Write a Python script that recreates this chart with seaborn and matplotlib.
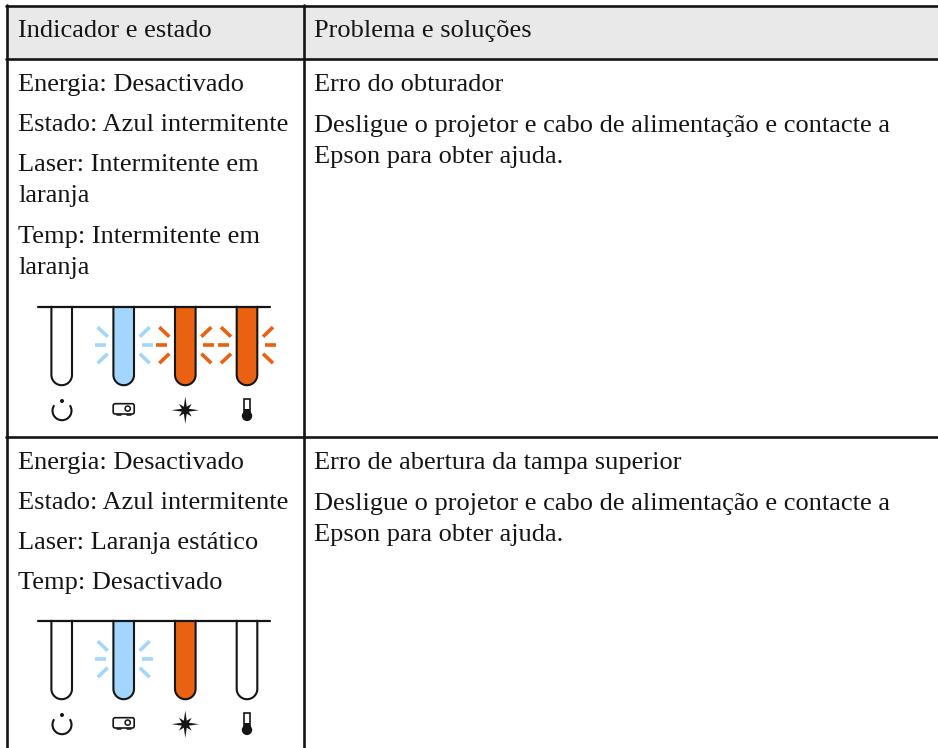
import numpy as np
import matplotlib
matplotlib.use("Agg")
import matplotlib.pyplot as plt
import seaborn as sns
from matplotlib.patches import Circle, Arc, FancyBboxPatch, Polygon, Rectangle

sns.set_theme(style="white")
plt.rcParams['font.family'] = ['Liberation Serif', 'DejaVu Serif']

W, H = 938, 748
FONT = 19
INK = "#151515"
BLUE = "#a3d6ff"
ORANGE = "#ea6211"

headers = ["Indicador e estado", "Problema e soluções"]

row1_left = ["Energia: Desactivado", "Estado: Azul intermitente", "Laser: Intermitente em", "laranja",
             "Temp: Intermitente em", "laranja"]
row1_left_y = [91, 131, 171, 202, 243, 274]
row1_right = ["Erro do obturador", "Desligue o projetor e cabo de alimentação e contacte a",
              "Epson para obter ajuda."]
row1_right_y = [91, 131.5, 163]
row1_state = ["off", "blue_blink", "orange_blink", "orange_blink"]

row2_left = ["Energia: Desactivado", "Estado: Azul intermitente", "Laser: Laranja estático", "Temp: Desactivado"]
row2_left_y = [469, 509, 549, 589]
row2_right = ["Erro de abertura da tampa superior", "Desligue o projetor e cabo de alimentação e contacte a",
              "Epson para obter ajuda."]
row2_right_y = [469, 510, 541]
row2_state = ["off", "blue_blink", "orange", "off"]

tube_x = [61.7, 123.7, 185.3, 247]


def draw_tube(ax, cx, top, state):
    r, bottom = 10.3, top + 78.5
    color = {"off": "white", "blue_blink": BLUE, "orange_blink": ORANGE, "orange": ORANGE}[state]
    t = np.linspace(np.pi, 0, 40)
    xs = np.r_[cx - r, cx + r * np.cos(t), cx + r]
    ys = np.r_[top, bottom - r + r * np.sin(t), top]
    ax.fill(xs, ys, color=color, lw=0, zorder=2)
    ax.plot(xs, ys, color=INK, lw=1.5, zorder=3)
    if state.endswith("blink"):
        mid = top + 38.5
        for sx in (-1, 1):
            ax.plot([cx + sx * 18, cx + sx * 29], [mid, mid], color=color, lw=2.6, solid_capstyle="butt", zorder=2)
            for sy in (-1, 1):
                ax.plot([cx + sx * 16, cx + sx * 26], [mid + sy * 8.5, mid + sy * 18], color=color, lw=2.6,
                        solid_capstyle="butt", zorder=2)


def draw_icons(ax, y):
    # power
    ax.add_patch(Arc((tube_x[0] + 0.3, y + 0.5), 19, 19, theta1=-35, theta2=215, color=INK, lw=1.5))
    ax.add_patch(Circle((tube_x[0] + 0.3, y - 9.2), 2.0, color=INK, lw=0))
    # projector
    px = tube_x[1]
    ax.add_patch(FancyBboxPatch((px - 10.5, y - 6.5), 21, 10.3, boxstyle="round,pad=0,rounding_size=2", fc="white",
                                ec=INK, lw=1.2))
    ax.add_patch(Circle((px + 4, y - 1.6), 2.6, fc="white", ec=INK, lw=1.1))
    for dx in (-5, 5.5):
        ax.plot([px + dx - 1.8, px + dx + 1.8], [y + 4.8, y + 4.8], color=INK, lw=1.1)
    # star
    sx = tube_x[2]
    ang = np.arange(16) * np.pi / 8
    rad = np.array([13.7, 3.8, 9, 3.8] * 4)
    ax.add_patch(Polygon(np.c_[sx + rad * np.cos(ang), y + rad * np.sin(ang)], color=INK, lw=0))
    # thermometer
    tx = tube_x[3]
    ax.add_patch(Rectangle((tx - 2.9, y - 11.5), 5.8, 14, fc="white", ec=INK, lw=1.2))
    ax.add_patch(Rectangle((tx - 3.2, y - 1), 6.4, 5, color=INK, lw=0))
    ax.add_patch(Circle((tx, y + 5.7), 5.2, color=INK, lw=0))


def draw_panel(ax, top, states):
    ax.plot([38, 270], [top, top], color=INK, lw=1.6, zorder=4)
    for cx, state in zip(tube_x, states):
        draw_tube(ax, cx, top, state)
    draw_icons(ax, top + 103.5)


fig = plt.figure(figsize=(W / 100, H / 100), dpi=100)
ax = fig.add_axes([0, 0, 1, 1])
ax.set_xlim(0, W)
ax.set_ylim(H, 0)
ax.axis("off")

ax.add_patch(Rectangle((7, 5), W - 7, 54, color="#e9e9e9", lw=0, zorder=0))
for x in (7.4, 304):
    ax.plot([x, x], [5, H], color=INK, lw=1.9, zorder=5)
for y in (5.8, 59, 436.7):
    ax.plot([6, W], [y, y], color=INK, lw=1.9, zorder=5)

for x, label in zip((18, 314), headers):
    ax.text(x, 37, label, fontsize=FONT, color=INK, va="baseline")
for labels, ys, x in ((row1_left, row1_left_y, 18), (row1_right, row1_right_y, 314),
                      (row2_left, row2_left_y, 18), (row2_right, row2_right_y, 314)):
    for label, y in zip(labels, ys):
        ax.text(x, y, label, fontsize=FONT, color=INK, va="baseline")

draw_panel(ax, 306.7, row1_state)
draw_panel(ax, 620.7, row2_state)

fig.savefig("out.png", dpi=100)
